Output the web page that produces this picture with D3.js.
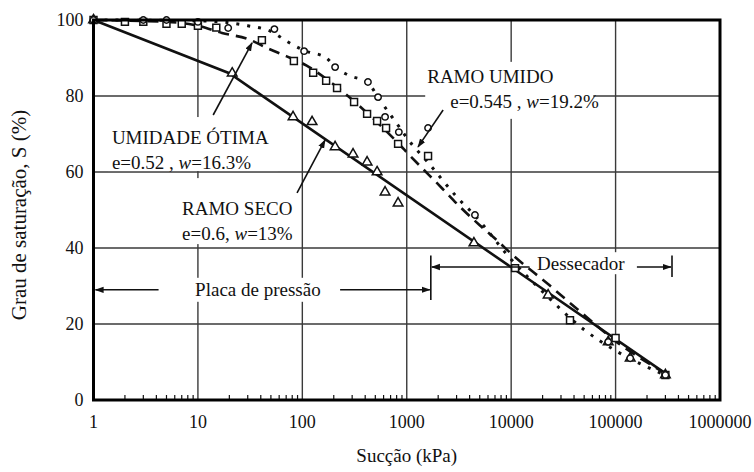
<!DOCTYPE html>
<html><head><meta charset="utf-8">
<script src="https://cdn.jsdelivr.net/npm/d3@7"></script>
<style>
body{margin:0;background:#fff}
svg{display:block}
svg text{font-family:"Liberation Serif","LiberationSerif","DejaVu Serif",serif;fill:#111}
</style></head><body>
<svg id="chart" width="754" height="472"></svg>
<script>
// Axis ticks
const xTicks = [1, 10, 100, 1000, 10000, 100000, 1000000];
const xTickLabels = ["1", "10", "100", "1000", "10000", "100000", "1000000"];
const yTicks = [0, 20, 40, 60, 80, 100];

// Fitted retention curves: [suction kPa, degree of saturation %]
const secoCurve = [[1, 100], [20, 86], [300000, 7]];
const otimaCurve = [[1, 100], [5, 99.5], [10, 98.5], [17, 96.6], [30, 95], [48, 92.4], [70, 90.5], [110, 88],
  [200, 83], [400, 76], [800, 68], [1100, 64], [2200, 55.6], [3300, 50.6], [5000, 46], [7000, 42.5],
  [10500, 38], [23000, 30.3], [35000, 26], [52000, 22], [100000, 15.5], [300000, 7]];
const umidoCurve = [[1, 100], [10, 99.8], [30, 98.5], [50, 97], [73, 94.2], [104, 92], [170, 90], [206, 87.6],
  [275, 85.5], [425, 83.5], [530, 79.7], [620, 77], [840, 72], [1000, 69], [1600, 62.5], [3000, 53.5],
  [4500, 48.5], [10000, 37], [20000, 28.5], [50000, 18.5], [100000, 13], [300000, 6.5]];

// Measured points
const secoPoints = [[1, 100], [21.3, 86], [81.5, 74.5], [124, 73.2], [206, 66.6], [306, 64.7], [417, 62.6],
  [520, 60], [620, 54.7], [826, 51.8], [4400, 41.3], [22600, 27.6], [85000, 15.3], [138000, 11], [300000, 6.6]];
const otimaPoints = [[1, 100], [2, 99.5], [3, 99.5], [5, 99], [7, 99], [10, 98.5], [15, 98], [41, 94.7],
  [83, 89.2], [127, 86.1], [169, 84], [215, 82.1], [313, 78.4], [417, 75.3], [520, 73.4], [634, 71.6],
  [826, 67.4], [1600, 64.2], [10900, 34.7], [36600, 21], [100000, 16.3], [300000, 6.6]];
const umidoPoints = [[1, 100], [3, 100], [5, 100], [10, 99.5], [19.5, 97.9], [54, 97.6], [104, 91.8],
  [206, 87.6], [425, 83.7], [531, 79.7], [620, 74.5], [840, 70.5], [1600, 71.6], [4500, 48.7],
  [85000, 15.3], [138000, 11], [300000, 6.6]];

// Annotation labels: [suction, saturation, lines]
const labels = [
  {x: 1.5, y: 69.2, lines: [["UMIDADE ÓTIMA"], ["e=0.52 , ", "w", "=16.3%"]]},
  {x: 7.05, y: 50.5, lines: [["RAMO SECO"], ["e=0.6, ", "w", "=13%"]]},
  {x: 1570, y: 85.3, lines: [["RAMO UMIDO"], ["e=0.545 , ", "w", "=19.2%"]], indent: 23}
];
const arrows = [
  {from: [14, 75], to: [33, 94]},
  {from: [89, 54.5], to: [165, 68.4]},
  {from: [2230, 76.3], to: [1283, 66.6]}
];

const svg = d3.select("#chart");
const x = d3.scaleLog().domain([1, 1e6]).range([93.5, 720]);
const y = d3.scaleLinear().domain([0, 100]).range([400, 20]);

const defs = svg.append("defs");
defs.append("marker").attr("id", "head").attr("viewBox", "0 0 10 10").attr("refX", 9).attr("refY", 5)
  .attr("markerWidth", 9).attr("markerHeight", 9).attr("markerUnits", "userSpaceOnUse").attr("orient", "auto")
  .append("path").attr("d", "M0,1.5L10,5L0,8.5Z").attr("fill", "#111");

// Grid
const grid = svg.append("g").attr("stroke", "#3a3a3a").attr("stroke-width", 1.4);
xTicks.slice(1, -1).forEach(v => grid.append("line").attr("x1", x(v)).attr("x2", x(v)).attr("y1", y(100)).attr("y2", y(0)));
yTicks.slice(1, -1).forEach(v => grid.append("line").attr("x1", x(1)).attr("x2", x(1e6)).attr("y1", y(v)).attr("y2", y(v)));

// Minor ticks along the suction axis
const minor = svg.append("g").attr("stroke", "#111").attr("stroke-width", 1.2);
for (let d = 1; d < 1e6; d *= 10) {
  for (let k = 2; k <= 9; k++) {
    minor.append("line").attr("x1", x(k * d)).attr("x2", x(k * d)).attr("y1", y(0)).attr("y2", y(0) - 5);
  }
}

// White boxes behind the annotation texts
const boxes = [
  [x(1.5) - 4, y(69.2) - 20, 170, 54],
  [x(7.05) - 4, y(50.5) - 30, 118, 66],
  [x(1570) - 2, y(85.3) - 14, 168, 57],
  [x(9.4) - 4, y(29) - 12, 144, 24],
  [x(17700) - 5, y(36) - 11, 108, 22]
];
svg.append("g").selectAll("rect").data(boxes).join("rect")
  .attr("x", d => d[0]).attr("y", d => d[1]).attr("width", d => d[2]).attr("height", d => d[3]).attr("fill", "#fff");

// Curves
const line = d3.line().x(d => x(d[0])).y(d => y(d[1]));
const smooth = d3.line().x(d => x(d[0])).y(d => y(d[1])).curve(d3.curveMonotoneX);
svg.append("path").datum(secoCurve).attr("d", line).attr("fill", "none").attr("stroke", "#111").attr("stroke-width", 2.6);
svg.append("path").datum(otimaCurve).attr("d", smooth).attr("fill", "none").attr("stroke", "#111")
  .attr("stroke-width", 2.6).attr("stroke-dasharray", "11,7");
svg.append("path").datum(umidoCurve).attr("d", smooth).attr("fill", "none").attr("stroke", "#111")
  .attr("stroke-width", 3).attr("stroke-dasharray", "3,8");

// Markers
function markers(data, type, size) {
  svg.append("g").selectAll("path").data(data).join("path")
    .attr("transform", d => `translate(${x(d[0])},${y(d[1])})`)
    .attr("d", d3.symbol().type(type).size(size))
    .attr("fill", "#fff").attr("stroke", "#111").attr("stroke-width", 1.5);
}
markers(secoPoints, d3.symbolTriangle, 40);
markers(otimaPoints, d3.symbolSquare, 48);
markers(umidoPoints, d3.symbolCircle, 32);

// Frame
svg.append("rect").attr("x", x(1)).attr("y", y(100)).attr("width", x(1e6) - x(1)).attr("height", y(0) - y(100))
  .attr("fill", "none").attr("stroke", "#000").attr("stroke-width", 3);

// Tick labels
svg.append("g").selectAll("text").data(xTicks).join("text")
  .attr("x", d => x(d)).attr("y", y(0) + 22).attr("dy", "0.35em").attr("text-anchor", "middle")
  .attr("font-size", 18).text((d, i) => xTickLabels[i]);
svg.append("g").selectAll("text").data(yTicks).join("text")
  .attr("x", x(1) - 10).attr("y", d => y(d)).attr("dy", "0.35em").attr("text-anchor", "end")
  .attr("font-size", 18).text(d => d);

// Axis titles
svg.append("text").attr("x", (x(1) + x(1e6)) / 2).attr("y", 462).attr("text-anchor", "middle")
  .attr("font-size", 19).text("Sucção (kPa)");
svg.append("text").attr("transform", `translate(26,${(y(0) + y(100)) / 2 + 5}) rotate(-90)`).attr("text-anchor", "middle")
  .attr("font-size", 21).text("Grau de saturação, S (%)");

// Annotation labels
labels.forEach(l => {
  const t = svg.append("text").attr("font-size", 19);
  l.lines.forEach((parts, i) => {
    const row = t.append("tspan").attr("x", x(l.x) + (i === 1 && l.indent ? l.indent : 0))
      .attr("y", y(l.y) + i * 25).attr("dy", "0.35em");
    if (parts.length === 1) row.text(parts[0]);
    else {
      row.text(parts[0]);
      t.append("tspan").attr("font-style", "italic").text(parts[1]);
      t.append("tspan").text(parts[2]);
    }
  });
});

// Arrows to the curves
svg.append("g").selectAll("line").data(arrows).join("line")
  .attr("x1", d => x(d.from[0])).attr("y1", d => y(d.from[1]))
  .attr("x2", d => x(d.to[0])).attr("y2", d => y(d.to[1]))
  .attr("stroke", "#111").attr("stroke-width", 1.6).attr("marker-end", "url(#head)");

// Measurement ranges: pressure plate and desiccator
const ranges = svg.append("g").attr("stroke", "#111").attr("stroke-width", 1.6);
const yPlaca = y(29), yDess = y(35);
ranges.append("line").attr("x1", x(4.2)).attr("x2", x(1) + 2).attr("y1", yPlaca).attr("y2", yPlaca).attr("marker-end", "url(#head)");
ranges.append("line").attr("x1", x(230)).attr("x2", x(1700) - 1).attr("y1", yPlaca).attr("y2", yPlaca).attr("marker-end", "url(#head)");
ranges.append("line").attr("x1", x(1700)).attr("x2", x(1700)).attr("y1", y(26.3)).attr("y2", y(38));
ranges.append("line").attr("x1", x(15000)).attr("x2", x(1700) + 1).attr("y1", yDess).attr("y2", yDess).attr("marker-end", "url(#head)");
ranges.append("line").attr("x1", x(160000)).attr("x2", x(347000) - 1).attr("y1", yDess).attr("y2", yDess).attr("marker-end", "url(#head)");
ranges.append("line").attr("x1", x(347000)).attr("x2", x(347000)).attr("y1", y(32.4)).attr("y2", y(38));
svg.append("text").attr("x", x(9.4)).attr("y", yPlaca).attr("dy", "0.35em").attr("font-size", 19).text("Placa de pressão");
svg.append("text").attr("x", x(17700)).attr("y", y(36)).attr("dy", "0.35em").attr("font-size", 19).text("Dessecador");
</script>
</body></html>
